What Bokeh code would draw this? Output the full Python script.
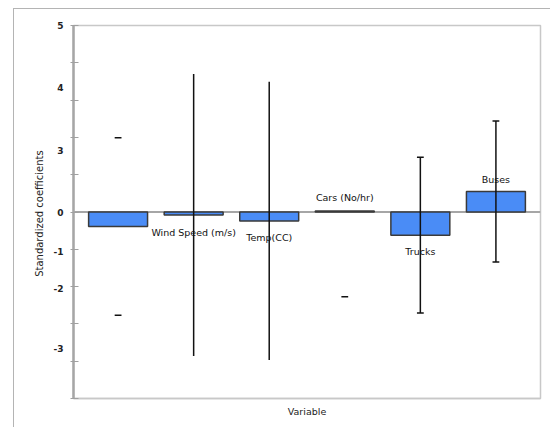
from bokeh.plotting import figure
from bokeh.models import Range1d, FixedTicker, Span, ColumnDataSource
from bokeh.core.properties import value
from bokeh.embed import file_html
from bokeh.resources import INLINE

# ---- data ----
categories = ["", "Wind Speed (m/s)", "Temp(CC)", "Cars (No/hr)", "Trucks", "Buses"]
coefficients = [-0.39, -0.08, -0.24, 0.03, -0.62, 0.55]
errors = [2.38, 3.78, 3.73, 2.30, 2.09, 1.89]
show_stem = [False, True, True, False, True, True]
show_upper_cap = [True, False, False, False, True, True]
show_lower_cap = [True, False, False, True, True, True]

ytick_labels = ["5", "4", "3", "0", "-1", "-2", "-3"]
ytick_label_pos = [5.0, 3.35, 1.65, 0.0, -1.05, -2.05, -3.65]
ytick_marks = [-5, -4, -3, -2, -1, 0, 1, 2, 3, 4, 5]

# label placement (layout only)
label_dy = [0.0, -0.55, -0.68, 0.39, -1.06, 0.87]

FONT = "DejaVu Sans"
xs = list(range(len(categories)))

p = figure(width=537, height=419,
           x_range=Range1d(-0.59, 5.59), y_range=Range1d(-5, 5),
           output_backend="svg", toolbar_location=None,
           min_border_left=59, min_border_right=11,
           min_border_top=16, min_border_bottom=30)
p.margin = (8, 0, 0, 13)
p.styles = {"border-left": "1px solid #b4b4b4", "border-top": "1px solid #b4b4b4"}
p.background_fill_color = "white"
p.border_fill_color = "white"
p.outline_line_color = "#c8c8c8"
p.outline_line_width = 1.5
p.xgrid.visible = False
p.ygrid.visible = False

# y axis: tick marks as minor ticks, labels at their own positions
p.yaxis.ticker = FixedTicker(ticks=ytick_label_pos, minor_ticks=ytick_marks)
p.yaxis.major_label_overrides = {pos: lab for pos, lab in zip(ytick_label_pos, ytick_labels)}
p.yaxis.major_tick_in = 0
p.yaxis.major_tick_out = 0
p.yaxis.minor_tick_in = 5
p.yaxis.minor_tick_out = 3
p.yaxis.minor_tick_line_color = "#a0a0a0"
p.yaxis.minor_tick_line_width = 1
p.yaxis.axis_line_color = "#a6a6a6"
p.yaxis.axis_line_width = 2.5
p.yaxis.major_label_standoff = 7
p.yaxis.major_label_text_font = FONT
p.yaxis.major_label_text_font_size = "9px"
p.yaxis.major_label_text_font_style = "bold"
p.yaxis.major_label_text_color = "#222222"
p.yaxis.axis_label = "Standardized  coefficients"
p.yaxis.axis_label_text_font = FONT
p.yaxis.axis_label_text_font_size = "10px"
p.yaxis.axis_label_text_font_style = "normal"
p.yaxis.axis_label_text_color = "#222222"
p.yaxis.axis_label_standoff = 6

p.xaxis.ticker = FixedTicker(ticks=[])
p.xaxis.axis_line_color = "#c8c8c8"
p.xaxis.axis_line_width = 1.5
p.xaxis.major_tick_line_color = None
p.xaxis.minor_tick_line_color = None
p.xaxis.axis_label = "Variable"
p.xaxis.axis_label_text_font = FONT
p.xaxis.axis_label_text_font_size = "9.5px"
p.xaxis.axis_label_text_font_style = "normal"
p.xaxis.axis_label_text_color = "#222222"
p.xaxis.axis_label_standoff = 7

zero = Span(location=0, dimension="width", line_color="#a6a6a6", line_width=2, level="underlay")
p.add_layout(zero)

src = ColumnDataSource(dict(x=xs, top=coefficients))
p.vbar(x="x", top="top", bottom=0, width=0.78, source=src,
       fill_color="#4a8cf6", line_color="#3a3a3a", line_width=1.5)

# error bars
stem_x = [x for x, s in zip(xs, show_stem) if s]
stem_y0 = [c - e for c, e, s in zip(coefficients, errors, show_stem) if s]
stem_y1 = [c + e for c, e, s in zip(coefficients, errors, show_stem) if s]
p.segment(x0=stem_x, y0=stem_y0, x1=stem_x, y1=stem_y1, line_color="#111111", line_width=1.5)

cap_hw = 0.045
cx, cy = [], []
for x, c, e, u, l in zip(xs, coefficients, errors, show_upper_cap, show_lower_cap):
    if u:
        cx.append(x); cy.append(c + e)
    if l:
        cx.append(x); cy.append(c - e)
p.segment(x0=[x - cap_hw for x in cx], y0=cy, x1=[x + cap_hw for x in cx], y1=cy,
          line_color="#111111", line_width=1.5)

# category labels
lab_src = ColumnDataSource(dict(x=xs, y=label_dy, text=categories))
p.text(x="x", y="y", text="text", source=lab_src, text_font=value(FONT),
       text_font_size="9.5px", text_align="center", text_baseline="middle",
       text_color="#111111")

open("out.html", "w").write(file_html(p, INLINE))
